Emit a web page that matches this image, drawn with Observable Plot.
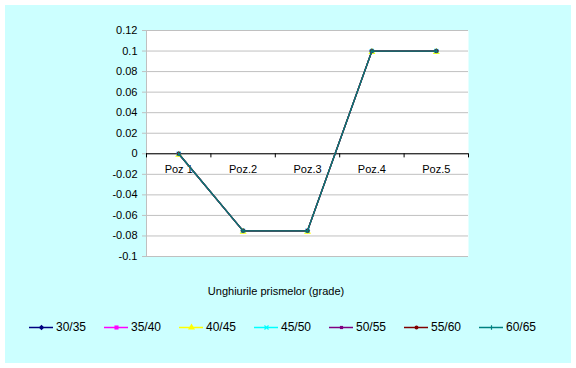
<!DOCTYPE html>
<html>
<head>
<meta charset="utf-8">
<script src="https://cdn.jsdelivr.net/npm/d3@7"></script>
<script src="https://cdn.jsdelivr.net/npm/@observablehq/plot@0.6"></script>
<style>
  body { margin: 0; background: white; width: 576px; height: 368px; position: relative; overflow: hidden; font-family: "Liberation Sans", Arial, sans-serif; }
  #bg { position: absolute; left: 5px; top: 5px; width: 566px; height: 358px; background: #CCFFFF; }
  #chart { position: absolute; left: 0; top: 0; }
  #xtitle { position: absolute; left: 176px; width: 200px; top: 285px; text-align: center; font-size: 11px; color: black; }
  #legend { position: absolute; left: 29px; top: 320px; display: flex; }
  .item { width: 75px; display: flex; align-items: center; font-size: 12px; color: black; }
  .item svg { margin-right: 3px; }
</style>
</head>
<body>
<div id="bg"></div>
<div id="chart"></div>
<div id="xtitle">Unghiurile prismelor (grade)</div>
<div id="legend"></div>
<script>
const categories = ["Poz 1", "Poz.2", "Poz.3", "Poz.4", "Poz.5"];
const seriesNames = ["30/35", "35/40", "40/45", "45/50", "50/55", "55/60", "60/65"];
const s30_35 = [0, -0.075, -0.075, 0.1, 0.1];
const s35_40 = [0, -0.075, -0.075, 0.1, 0.1];
const s40_45 = [0, -0.075, -0.075, 0.1, 0.1];
const s45_50 = [0, -0.075, -0.075, 0.1, 0.1];
const s50_55 = [0, -0.075, -0.075, 0.1, 0.1];
const s55_60 = [0, -0.075, -0.075, 0.1, 0.1];
const s60_65 = [0, -0.075, -0.075, 0.1, 0.1];
const yTicks = [0.12, 0.1, 0.08, 0.06, 0.04, 0.02, 0, -0.02, -0.04, -0.06, -0.08, -0.1];

const seriesValues = [s30_35, s35_40, s40_45, s45_50, s50_55, s55_60, s60_65];
const colors = ["#000080", "#FF00FF", "#FFFF00", "#00FFFF", "#800080", "#800000", "#008080"];
const symbols = ["diamond2", "square", "triangle", "times", "square", "circle", "plus"];
const sizes = [2.5, 2.3, 2.6, 2.0, 1.8, 2.0, 1.6];
const openSym = s => s === "times" || s === "plus";

const rows = [];
seriesNames.forEach((name, si) => {
  seriesValues[si].forEach((v, ci) => rows.push({series: name, si, ci, cat: categories[ci], value: v}));
});
const bounds = d3.range(categories.length + 1).map(i => i - 0.5);

const marks = [
  Plot.frame({fill: "white", stroke: null}),
  Plot.ruleY(yTicks, {y: d => d, stroke: "#c0c0c0", insetLeft: -4}),
  Plot.frame({anchor: "left", stroke: "#c0c0c0"}),
  Plot.ruleY([0], {stroke: "black"}),
  Plot.ruleX(bounds, {x: d => d, y1: 0, y2: -0.004, stroke: "black"}),
  Plot.axisY({ticks: yTicks, tickSize: 0, tickPadding: 9, tickFormat: d => String(d), fontSize: 11, fill: "black", label: null}),
  Plot.text(categories, {x: (d, i) => i, y: 0, dy: 16, text: d => d, fontSize: 11, fill: "black"})
];
seriesNames.forEach((name, si) => {
  const data = rows.filter(r => r.si === si);
  marks.push(Plot.line(data, {x: "ci", y: "value", stroke: colors[si], strokeWidth: 1.25}));
  const sym = symbols[si];
  marks.push(Plot.dot(data, {x: "ci", y: "value", symbol: sym, r: sizes[si], dy: si === 2 ? 1 : 0,
    fill: openSym(sym) ? "none" : colors[si], stroke: openSym(sym) ? colors[si] : "none", strokeWidth: 1.2}));
});

const chart = Plot.plot({
  width: 576, height: 270,
  marginTop: 30, marginLeft: 146, marginRight: 108, marginBottom: 14,
  style: {background: "transparent", fontFamily: "Liberation Sans, Arial, sans-serif", fontSize: "11px", color: "black"},
  x: {type: "linear", domain: [-0.5, categories.length - 0.5], axis: null},
  y: {domain: [-0.1, 0.12], axis: null},
  marks
});
document.getElementById("chart").appendChild(chart);

// legend
const legend = document.getElementById("legend");
seriesNames.forEach((name, si) => {
  const item = document.createElement("div");
  item.className = "item";
  const sym = symbols[si];
  const sw = Plot.plot({
    width: 24, height: 12, margin: 0,
    style: {background: "transparent"},
    x: {domain: [0, 1], axis: null}, y: {domain: [0, 1], axis: null},
    marks: [
      Plot.ruleY([0.5], {stroke: colors[si], strokeWidth: 1.5}),
      Plot.dot([0.5], {x: d => d, y: 0.5, symbol: sym, r: sizes[si],
        fill: openSym(sym) ? "none" : colors[si],
        stroke: openSym(sym) ? colors[si] : "none", strokeWidth: 1.2})
    ]
  });
  item.appendChild(sw);
  const t = document.createElement("span");
  t.textContent = name;
  item.appendChild(t);
  legend.appendChild(item);
});
</script>
</body>
</html>
